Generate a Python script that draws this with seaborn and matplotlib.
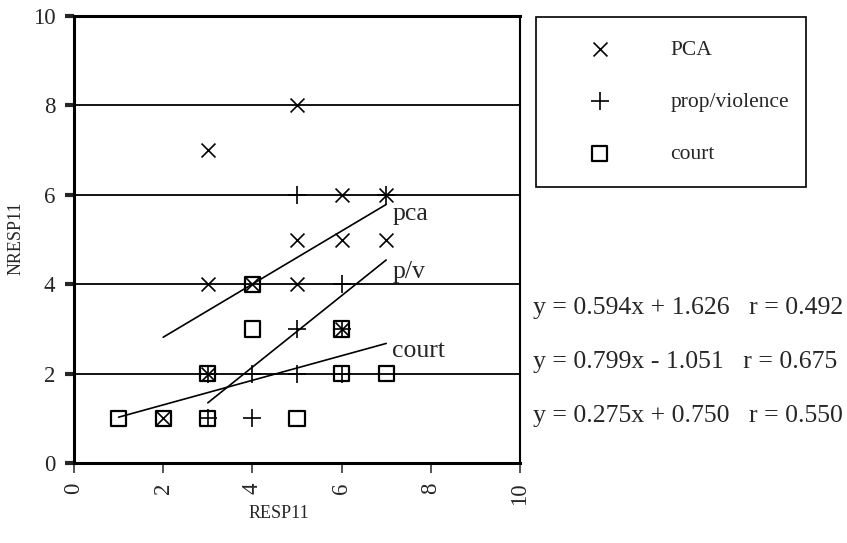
import numpy as np
import matplotlib
matplotlib.use('Agg')
import matplotlib.pyplot as plt
import seaborn as sns

# points
pca_x = [5, 3, 6, 7, 5, 6, 7, 3, 4, 5, 6, 3, 2]
pca_y = [8, 7, 6, 6, 5, 5, 5, 4, 4, 4, 3, 2, 1]
pv_x = [5, 7, 6, 5, 6, 3, 4, 5, 6, 3, 4]
pv_y = [6, 6, 4, 3, 3, 2, 2, 2, 2, 1, 1]
court_x = [4, 4, 6, 3, 6, 7, 1, 2, 3, 5]
court_y = [4, 3, 3, 2, 2, 2, 1, 1, 1, 1]

series_names = ['PCA', 'prop/violence', 'court']
line_tags = ['pca', 'p/v', 'court']
slopes = [0.594, 0.799, 0.275]
intercepts = [1.626, -1.051, 0.750]
r_values = [0.492, 0.675, 0.550]

ticks = [0, 2, 4, 6, 8, 10]

sns.set_style('white')
plt.rcParams['font.family'] = ['Liberation Serif', 'DejaVu Serif']

fig, ax = plt.subplots(figsize=(8.47, 5.43), dpi=100)
fig.subplots_adjust(left=74 / 847, right=520 / 847, bottom=1 - 463 / 543, top=1 - 16 / 543)

for y in ticks[1:-1]:
    ax.axhline(y, color='black', lw=1.3, zorder=1)

all_x = [pca_x, pv_x, court_x]
all_y = [pca_y, pv_y, court_y]

sns.scatterplot(x=pca_x, y=pca_y, marker='x', s=100, color='black', linewidth=1.2,
                label=series_names[0], ax=ax, zorder=3)
sns.scatterplot(x=pv_x, y=pv_y, marker='+', s=150, color='black', linewidth=1.2,
                label=series_names[1], ax=ax, zorder=3)
sns.scatterplot(x=court_x, y=court_y, marker='s', s=120, facecolor='none', edgecolor='black',
                linewidth=1.6, label=series_names[2], ax=ax, zorder=3)

# fitted lines, spanning each series' x range
for xs, m, b in zip(all_x, slopes, intercepts):
    xr = np.array([min(xs), max(xs)])
    sns.lineplot(x=xr, y=m * xr + b, color='black', lw=1.2, ax=ax, zorder=2)

tag_pos = [(7.15, 5.44), (7.15, 4.14), (7.13, 2.37)]
for tag, (tx, ty) in zip(line_tags, tag_pos):
    ax.text(tx, ty, tag, fontsize=18.5, va='baseline', ha='left')

ax.set_xlim(0, 10)
ax.set_ylim(0, 10)
ax.set_xticks(ticks)
ax.set_yticks(ticks)
ax.tick_params(axis='y', direction='out', length=6.5, width=3, pad=7, labelsize=16.5, left=True)
ax.tick_params(axis='x', direction='out', length=7, width=1.1, pad=7, labelsize=16.5,
               labelrotation=90, bottom=True)

for side in ['left', 'bottom', 'top']:
    ax.spines[side].set_linewidth(2.2)
ax.spines['right'].set_linewidth(1.5)
for sp in ax.spines.values():
    sp.set_color('black')
    sp.set_visible(True)

ax.set_xlabel('RESP11', fontsize=13)
ax.set_ylabel('NRESP11', fontsize=13)
ax.xaxis.set_label_coords(0.46, -0.094)
ax.yaxis.set_label_coords(-0.11, 0.503)

leg = ax.legend(loc='upper left', bbox_to_anchor=(536 / 847, 1 - 17 / 543, 270 / 847, 0),
                bbox_transform=fig.transFigure, mode='expand', borderaxespad=0,
                frameon=True, fancybox=False, edgecolor='black', framealpha=1,
                fontsize=15.5, labelspacing=1.5, borderpad=1.05,
                handlelength=3.8, handletextpad=1.4, scatterpoints=1)
leg.get_frame().set_linewidth(1.2)

eq_baselines = [314, 368, 422]
for m, b, r, yb in zip(slopes, intercepts, r_values, eq_baselines):
    sign = '+' if b >= 0 else '-'
    txt = f'y = {m:.3f}x {sign} {abs(b):.3f}   r = {r:.3f}'
    fig.text(533 / 847, 1 - yb / 543, txt, fontsize=18.5, va='baseline', ha='left')

fig.savefig('out.png', dpi=100)
